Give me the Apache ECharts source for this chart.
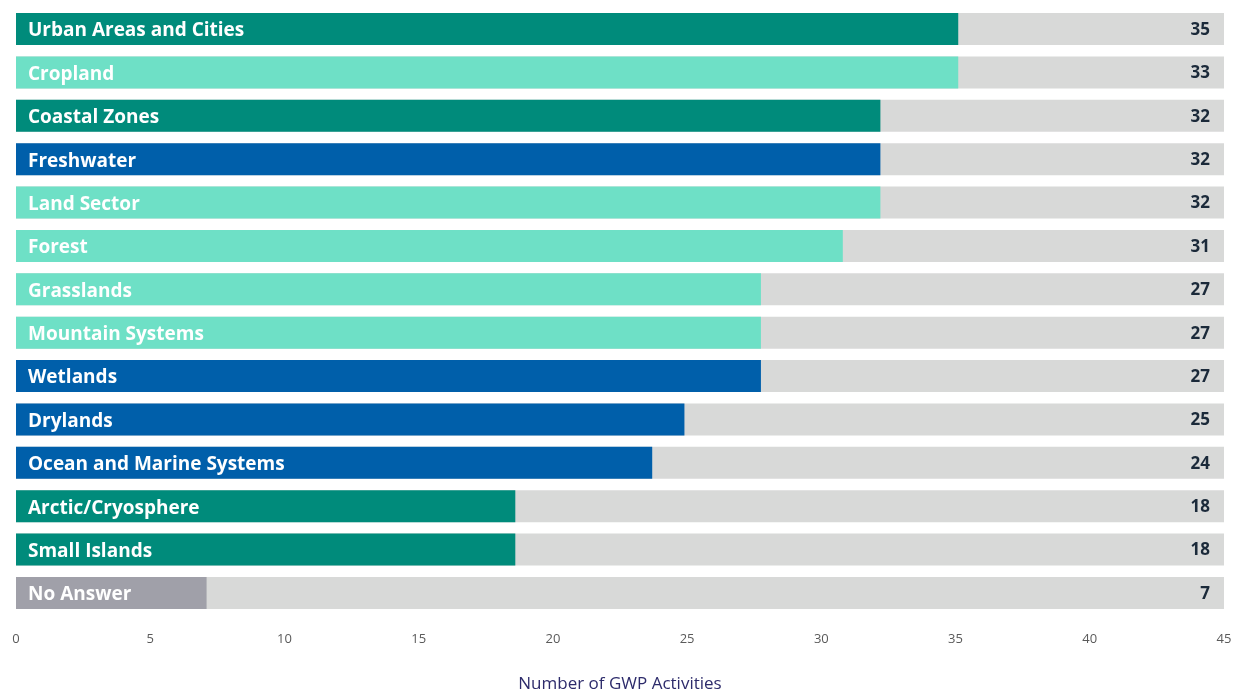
<!DOCTYPE html>
<html>
<head>
<meta charset="utf-8">
<script src="https://cdn.jsdelivr.net/npm/echarts@6/dist/echarts.min.js"></script>
<style>
html,body{margin:0;padding:0;background:#fff;}
#chart{width:1235px;height:693px;}
</style>
</head>
<body>
<div id="chart"></div>
<script>
const categories = ["Urban Areas and Cities","Cropland","Coastal Zones","Freshwater","Land Sector","Forest","Grasslands","Mountain Systems","Wetlands","Drylands","Ocean and Marine Systems","Arctic/Cryosphere","Small Islands","No Answer"];
// bar lengths as drawn in the picture
const barValues = [35.1, 35.1, 32.2, 32.2, 32.2, 30.8, 27.75, 27.75, 27.75, 24.9, 23.7, 18.6, 18.6, 7.1];
// printed counts at the right
const labelValues = [35, 33, 32, 32, 32, 31, 27, 27, 27, 25, 24, 18, 18, 7];
const colorGroups = ["teal","mint","teal","blue","mint","mint","mint","mint","blue","blue","blue","teal","teal","grey"];
const axisMax = 45;
const palette = {teal:"#008B7B", mint:"#6EE0C6", blue:"#005FAA", grey:"#A0A0A9"};

const chart = echarts.init(document.getElementById('chart'));
chart.setOption({
  animation:false,
  grid:{left:16,right:11,top:7.3,bottom:78.3,containLabel:false,outerBoundsMode:'none'},
  xAxis:{
    type:'value',min:0,max:axisMax,interval:5,
    axisLine:{show:false},axisTick:{show:false},splitLine:{show:false},
    axisLabel:{color:'#5a5a5a',fontSize:13,fontFamily:'Open Sans',margin:18},
    name:'Number of GWP Activities',nameLocation:'middle',nameGap:61,
    nameTextStyle:{color:'#2d2b6b',fontSize:17,fontFamily:'Open Sans'}
  },
  yAxis:{
    type:'category',data:categories,inverse:true,show:false
  },
  series:[
    {
      type:'bar',barWidth:32,barGap:'-100%',silent:true,
      data:categories.map(()=>axisMax),
      itemStyle:{color:'#D8D9D8'},
      label:{show:true,position:'insideRight',distance:14,offset:[0,1],
        formatter:p=>String(labelValues[p.dataIndex]),
        color:'#1b2a3a',fontWeight:'bold',fontSize:17,fontFamily:'Open Sans'}
    },
    {
      type:'bar',barWidth:32,barGap:'-100%',
      data:barValues.map((v,i)=>({value:v,itemStyle:{color:palette[colorGroups[i]]}})),
      label:{show:true,position:'insideLeft',distance:12,offset:[0,2],
        formatter:p=>p.name,
        color:'#ffffff',fontWeight:'bold',fontSize:19,fontFamily:'Open Sans'}
    }
  ]
});
</script>
</body>
</html>
